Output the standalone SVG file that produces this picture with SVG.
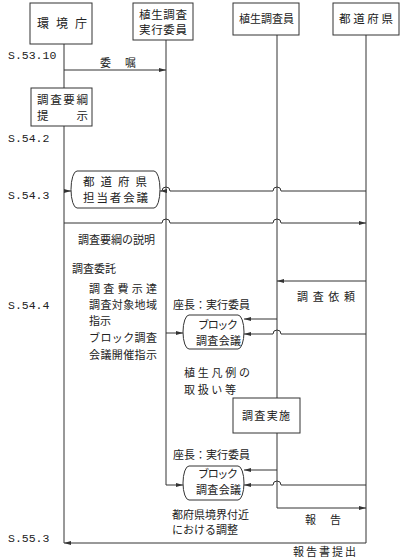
<svg xmlns="http://www.w3.org/2000/svg" width="407" height="559" viewBox="0 0 407 559">
<style>
text{font-family:"Noto Sans CJK JP","Noto Sans CJK SC",sans-serif;font-size:11px;fill:#222}
.d{font-family:"Liberation Mono",monospace;font-size:11.5px}
.m{font-size:11px}
.b{fill:#fff;stroke:#333;stroke-width:1}
.l{fill:none;stroke:#333;stroke-width:1}
</style>
<defs>
<marker id="a" markerUnits="userSpaceOnUse" markerWidth="8" markerHeight="6" refX="7" refY="3" orient="auto">
<path d="M0,1 L7,3 L0,5 Z" fill="#333"/>
</marker>
</defs>
<rect width="407" height="559" fill="#fff"/>
<g id="connectors" class="l">
<path d="M64,44 V88"/>
<path d="M64,126 V543"/>
<path d="M64,70 H166" marker-end="url(#a)"/>
<path d="M166,40 V485 H183" marker-end="url(#a)"/>
<path d="M277,35 V398"/>
<path d="M277,433 V508 H366" marker-end="url(#a)"/>
<path d="M366,35 V543 H64" marker-end="url(#a)"/>
<path d="M64,191 H71" marker-end="url(#a)"/>
<path d="M366,191 H281 A4 4 0 0 0 273,191 H170 A4 4 0 0 0 162,191 H160" marker-end="url(#a)"/>
<path d="M64,223 H162 A4 4 0 0 1 170,223 H273 A4 4 0 0 1 281,223 H366" marker-end="url(#a)"/>
<path d="M366,281 H277" marker-end="url(#a)"/>
<path d="M166,333 H183" marker-end="url(#a)"/>
<path d="M277,319 H244" marker-end="url(#a)"/>
<path d="M366,334 H281 A4 4 0 0 0 273,334 H244" marker-end="url(#a)"/>
<path d="M277,470 H244" marker-end="url(#a)"/>
<path d="M366,485 H281 A4 4 0 0 0 273,485 H244" marker-end="url(#a)"/>
</g>
<g id="kankyocho">
<rect class="b" x="30" y="3" width="62" height="41"/>
<text x="37" y="28" textLength="50" lengthAdjust="spacing" style="font-size:12px">環境庁</text>
</g>
<g id="jikko">
<rect class="b" x="133" y="3" width="60" height="37"/>
<text x="139" y="19" textLength="48" lengthAdjust="spacing" style="font-size:11.5px">植生調査</text>
<text x="139" y="34" textLength="48" lengthAdjust="spacing" style="font-size:11.5px">実行委員</text>
</g>
<g id="chosain">
<rect class="b" x="233" y="3" width="66" height="32"/>
<text x="239" y="23" textLength="55" lengthAdjust="spacing">植生調査員</text>
</g>
<g id="todofuken">
<rect class="b" x="333" y="3" width="66" height="32"/>
<text x="339" y="23" textLength="54" lengthAdjust="spacing" style="font-size:11.5px">都道府県</text>
</g>
<g id="yoko">
<rect class="b" x="31" y="88" width="61" height="38"/>
<text x="37" y="104" textLength="51" lengthAdjust="spacing" style="font-size:11.5px">調査要綱</text>
<text x="37" y="120" textLength="51" lengthAdjust="spacing" style="font-size:11.5px">提示</text>
</g>
<g id="meeting1">
<path class="b" d="M77,171 H154 A6 18.5 0 0 1 154,208 H77 A6 18.5 0 0 1 77,171 Z"/>
<text x="83" y="186" textLength="64" lengthAdjust="spacing" style="font-size:11.5px">都道府県</text>
<text x="83" y="202" textLength="65" lengthAdjust="spacing" style="font-size:11.5px">担当者会議</text>
</g>
<g id="meeting2">
<path class="b" d="M189,315 H238 A6 17 0 0 1 238,349 H189 A6 17 0 0 1 189,315 Z"/>
<text class="m" x="198" y="329" textLength="40" lengthAdjust="spacing">ブロック</text>
<text class="m" x="196" y="345" textLength="45" lengthAdjust="spacing">調査会議</text>
</g>
<g id="jisshi">
<rect class="b" x="233" y="398" width="67" height="35"/>
<text x="242" y="420" textLength="48" lengthAdjust="spacing">調査実施</text>
</g>
<g id="meeting3">
<path class="b" d="M189,466 H238 A6 17 0 0 1 238,500 H189 A6 17 0 0 1 189,466 Z"/>
<text class="m" x="198" y="478" textLength="40" lengthAdjust="spacing">ブロック</text>
<text class="m" x="196" y="494" textLength="45" lengthAdjust="spacing">調査会議</text>
</g>
<g id="labels">
<text class="d" x="8" y="59">S.53.10</text>
<text class="d" x="8" y="142">S.54.2</text>
<text class="d" x="8" y="199">S.54.3</text>
<text class="d" x="8" y="309">S.54.4</text>
<text class="d" x="8" y="542">S.55.3</text>
<text x="100" y="67" textLength="36" lengthAdjust="spacing">委嘱</text>
<text x="78" y="244" textLength="77" lengthAdjust="spacing">調査要綱の説明</text>
<text x="72" y="273">調査委託</text>
<text x="89" y="293" textLength="68" lengthAdjust="spacing">調査費示達</text>
<text x="89" y="309" textLength="68" lengthAdjust="spacing">調査対象地域</text>
<text x="89" y="325">指示</text>
<text x="89" y="342" textLength="68" lengthAdjust="spacing">ブロック調査</text>
<text x="89" y="359" textLength="68" lengthAdjust="spacing">会議開催指示</text>
<text x="297" y="301" textLength="58" lengthAdjust="spacing">調査依頼</text>
<text x="173" y="309" textLength="77" lengthAdjust="spacing">座長：実行委員</text>
<text x="184" y="377" textLength="66" lengthAdjust="spacing">植生凡例の</text>
<text x="184" y="394" textLength="52" lengthAdjust="spacing">取扱い等</text>
<text x="173" y="459" textLength="77" lengthAdjust="spacing">座長：実行委員</text>
<text x="172" y="519" textLength="77" lengthAdjust="spacing">都府県境界付近</text>
<text x="172" y="534" textLength="66" lengthAdjust="spacing">における調整</text>
<text x="305" y="524" textLength="36" lengthAdjust="spacing">報告</text>
<text x="293" y="556" textLength="63" lengthAdjust="spacing">報告書提出</text>
</g>
</svg>
